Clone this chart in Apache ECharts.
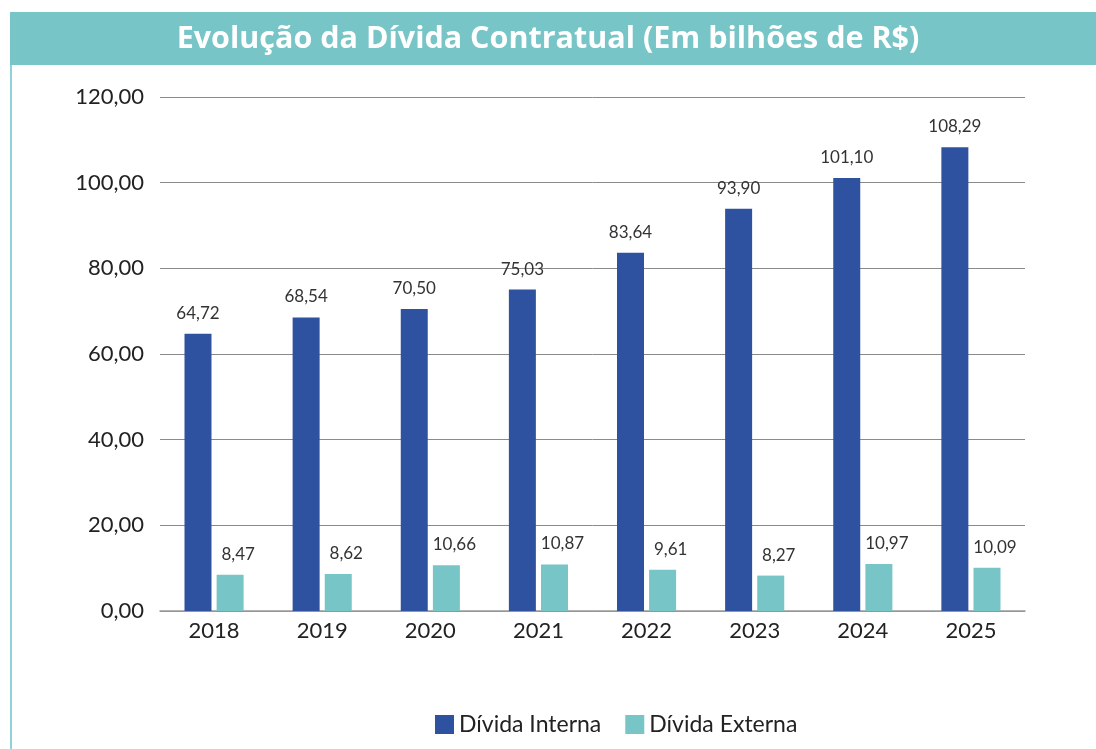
<!DOCTYPE html>
<html>
<head>
<meta charset="utf-8">
<script src="https://cdn.jsdelivr.net/npm/echarts@6/dist/echarts.min.js"></script>
<style>
  html, body { margin: 0; padding: 0; background: #fff; }
  #chart { width: 1096px; height: 749px; }
</style>
</head>
<body>
<div id="chart"></div>
<script>
var anos = ['2018', '2019', '2020', '2021', '2022', '2023', '2024', '2025'];
var dividaInterna = [64.72, 68.54, 70.50, 75.03, 83.64, 93.90, 101.10, 108.29];
var dividaExterna = [8.47, 8.62, 10.66, 10.87, 9.61, 8.27, 10.97, 10.09];

function fmt(v) {
    return Number(v).toFixed(2).replace('.', ',');
}

var myChart = echarts.init(document.getElementById('chart'));

var option = {
    animation: false,
    textStyle: { fontFamily: 'Lato' },
    graphic: [
        { type: 'rect', shape: { x: 10, y: 12, width: 1086, height: 53 }, style: { fill: '#78C5C8' }, z: 0 },
        { type: 'rect', shape: { x: 10, y: 65, width: 2, height: 684 }, style: { fill: '#8FD3D6' }, z: 0 }
    ],
    title: {
        text: 'Evolução da Dívida Contratual (Em bilhões de R$)',
        left: 'center',
        top: 19,
        textStyle: { color: '#fff', fontSize: 30.5, fontWeight: 'bold', fontFamily: 'Open Sans' }
    },
    legend: {
        bottom: 8,
        left: 430,
        icon: 'rect',
        itemWidth: 19,
        itemHeight: 19,
        itemGap: 24,
        textStyle: { fontSize: 23, color: '#222', fontFamily: 'Lato' },
        data: ['Dívida Interna', 'Dívida Externa']
    },
    grid: { left: 160, right: 71, top: 97, bottom: 138 },
    xAxis: {
        type: 'category',
        data: anos,
        axisTick: { show: false },
        axisLine: { lineStyle: { color: '#9a9a9a', width: 1.5 } },
        axisLabel: { fontSize: 22, color: '#222', margin: 9, fontFamily: 'Lato' }
    },
    yAxis: {
        type: 'value',
        min: 0,
        max: 120,
        interval: 20,
        axisLabel: { fontSize: 22, color: '#222', margin: 16, formatter: fmt, fontFamily: 'Lato' },
        splitLine: { lineStyle: { color: '#8a8a8a', width: 1 } }
    },
    series: [
        {
            name: 'Dívida Interna',
            type: 'bar',
            data: dividaInterna,
            barWidth: 27,
            barGap: '19%',
            itemStyle: { color: '#2F52A0' },
            label: {
                show: true, position: 'top', distance: 12,
                fontSize: 17, color: '#333', fontFamily: 'Lato',
                formatter: function (p) { return fmt(p.value); }
            }
        },
        {
            name: 'Dívida Externa',
            type: 'bar',
            data: dividaExterna,
            barWidth: 27,
            itemStyle: { color: '#78C5C8' },
            label: {
                show: true, position: 'top', distance: 12, offset: [8, 0],
                fontSize: 17, color: '#333', fontFamily: 'Lato',
                formatter: function (p) { return fmt(p.value); }
            }
        }
    ]
};

myChart.setOption(option);
</script>
</body>
</html>
